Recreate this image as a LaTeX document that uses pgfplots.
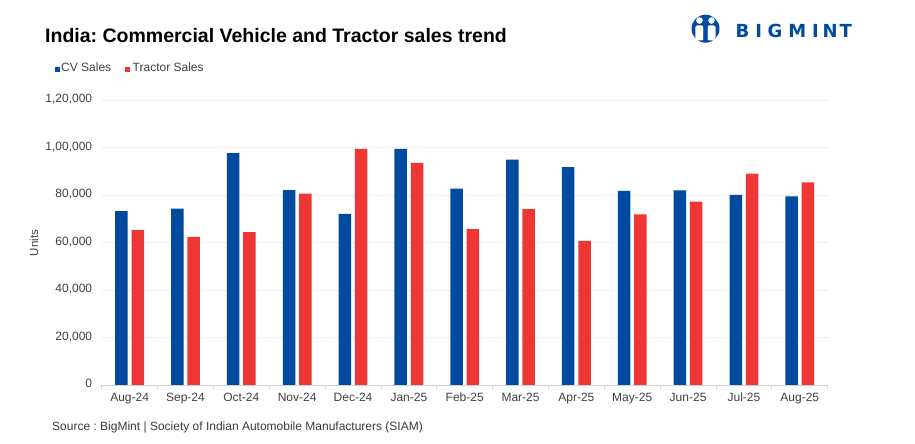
\documentclass[border=0pt]{standalone}
\usepackage{pgfplots}
\pgfplotsset{compat=1.18}
\usepackage{fontspec}
\setmainfont{Liberation Sans}
\newfontfamily\logofont{DejaVu Sans}
\frenchspacing

\definecolor{cvblue}{RGB}{0,74,160}
\definecolor{trred}{RGB}{238,54,52}
\definecolor{gridgray}{RGB}{238,238,238}
\definecolor{axgray}{RGB}{210,210,210}
\definecolor{txt}{RGB}{64,64,64}

% units: CV and tractor sales, Aug-24 .. Aug-25
\pgfplotstableread{
idx cv tractor
0  73200 65300
1  74300 62400
2  97600 64400
3  82000 80600
4  72100 99400
5  99400 93500
6  82700 65600
7  94900 74100
8  91700 60700
9  81700 71800
10 81900 77200
11 80000 89000
12 79400 85300
}\sales

\begin{document}
\begin{tikzpicture}[x=1pt,y=1pt]
\path[use as bounding box] (0,0) rectangle (915,444);

% title and logo
\node[anchor=base west,inner sep=0,font=\fontsize{19.5}{22}\selectfont\bfseries] at (45,401.7)
  {India: Commercial Vehicle and Tractor sales trend};
\fill[cvblue] (705.5,415.3) circle (14);
\fill[white] (699.5,423.5) circle (3.3);
\fill[white] (711.5,423.5) circle (3.3);
\fill[white, rounded corners=1.5] (695.3,418.5) rectangle (703.7,403.5);
\fill[white, rounded corners=1.5] (707.3,418.5) rectangle (715.7,403.5);
\fill[cvblue] (705.5,424.5) circle (2.5);
\fill[cvblue, rounded corners=1] (703.3,420.5) rectangle (707.7,403.5);
\foreach \c/\l in {742.5/B,758.8/I,775/G,797.2/M,815.5/I,830.2/N,845.8/T}
  \node[anchor=base,inner sep=0,text=cvblue,font=\logofont\fontsize{18}{20}\selectfont\bfseries] at (\c,406.7) {\l};

% legend
\fill[cvblue] (55,372) rectangle (59.5,376.5);
\node[anchor=base west,inner sep=0,text=txt,font=\fontsize{12}{14}\selectfont] at (61,372) {CV Sales};
\fill[trred] (125,372) rectangle (129.5,376.5);
\node[anchor=base west,inner sep=0,text=txt,font=\fontsize{12}{14}\selectfont] at (132.5,372) {Tractor Sales};

% y label
\node[rotate=90,anchor=base,inner sep=0,text=txt,font=\fontsize{11.5}{13}\selectfont] at (38,201) {Units};

% source
\node[anchor=base west,inner sep=0,text=txt!90!black,font=\fontsize{12}{14}\selectfont] at (52,13.3)
  {Source : BigMint | Society of Indian Automobile Manufacturers (SIAM)};

\begin{axis}[
    at={(101.7pt,59pt)}, anchor=south west,
    scale only axis, width=726pt, height=285pt,
    ybar=3.8pt, bar width=12.5pt,
    xmin=-0.5, xmax=12.5, ymin=0, ymax=120000,
    axis x line*=bottom, axis y line*=left,
    y axis line style={draw=none},
    x axis line style={draw=axgray, line width=0.8pt},
    xtick={0,...,12},
    xticklabels={Aug-24,Sep-24,Oct-24,Nov-24,Dec-24,Jan-25,Feb-25,Mar-25,Apr-25,May-25,Jun-25,Jul-25,Aug-25},
    minor xtick={-0.5,0.5,...,12.5},
    major tick length=0pt, minor tick length=4.5pt, tick align=outside,
    minor x tick style={draw=axgray, line width=0.8pt},
    ytick={0,20000,...,120000},
    scaled y ticks=false,
    yticklabels={0,{20,000},{40,000},{60,000},{80,000},{1,00,000},{1,20,000}},
    ymajorgrids, major grid style={draw=gridgray, line width=0.8pt},
    ytick style={draw=none},
    typeset ticklabels with strut,
    ticklabel style={text=txt, font=\fontsize{12}{14}\selectfont},
    xticklabel style={yshift=-3pt},
    yticklabel style={xshift=-6pt},
    /pgf/number format/assume math mode=true,
  ]
\addplot[fill=cvblue, draw=none] table[x=idx, y=cv] {\sales};
\addplot[fill=trred, draw=none] table[x=idx, y=tractor] {\sales};
\end{axis}
\end{tikzpicture}
\end{document}
